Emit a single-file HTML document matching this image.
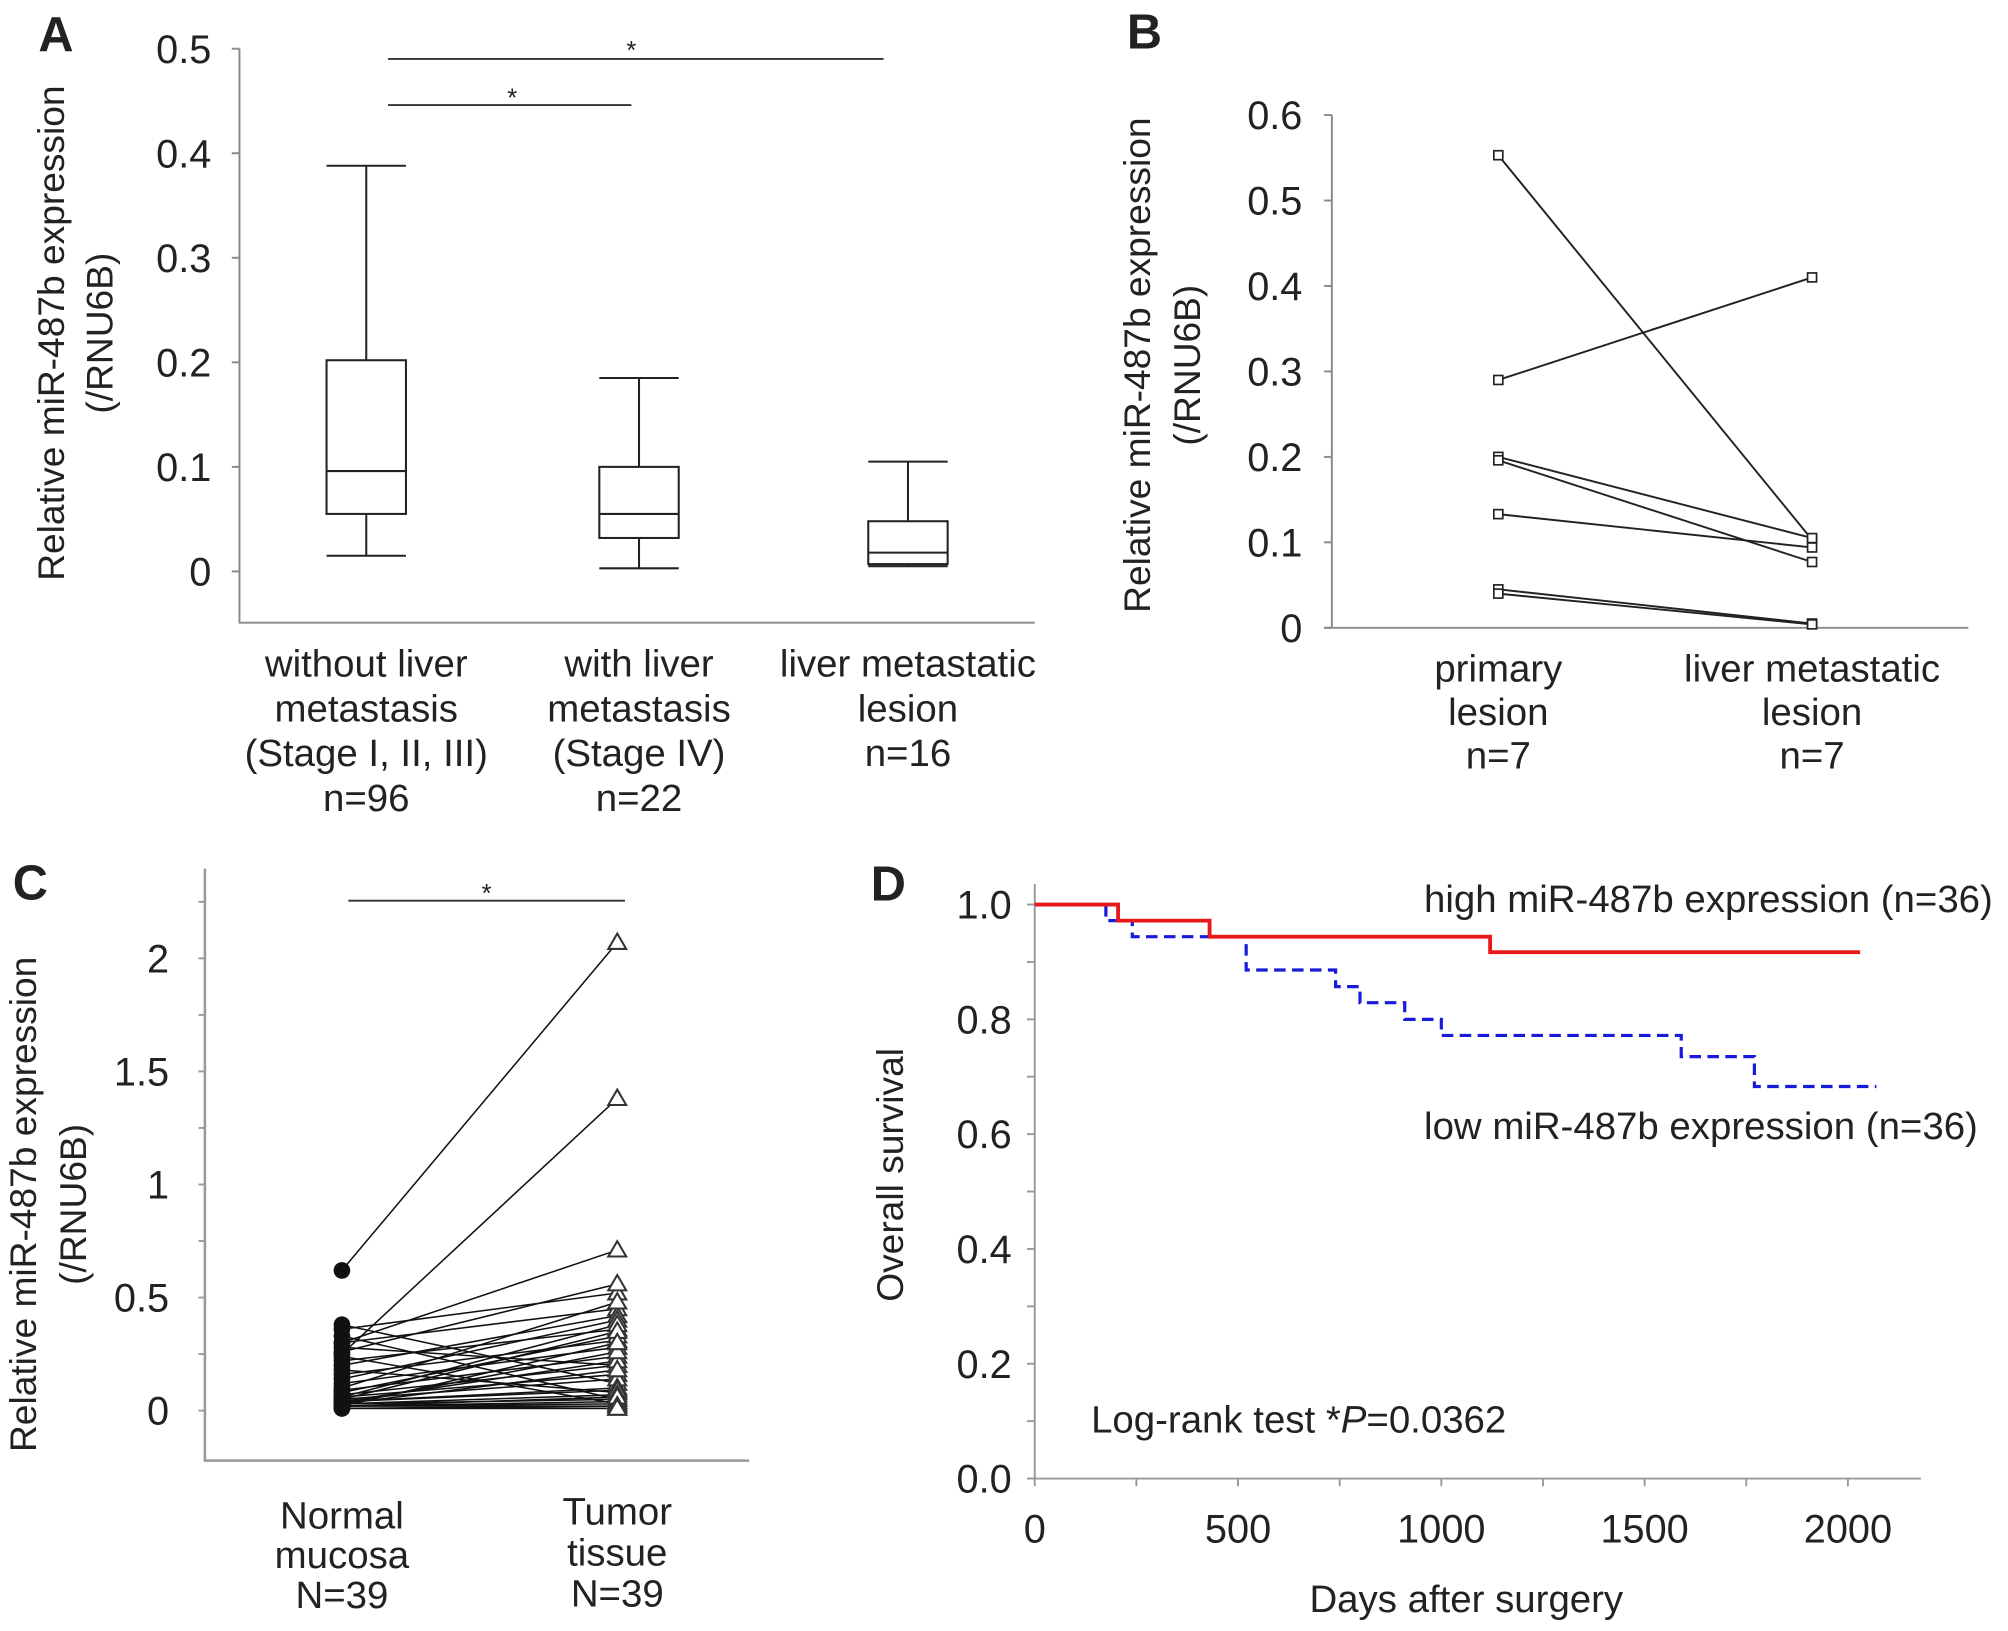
<!DOCTYPE html>
<html><head><meta charset="utf-8">
<style>
html,body{margin:0;padding:0;background:#fff;}
svg{display:block;}
text{font-family:"Liberation Sans",sans-serif;fill:#222;}
</style></head>
<body>
<svg id="fig" width="2008" height="1631" viewBox="0 0 1568 1273" preserveAspectRatio="none" xmlns="http://www.w3.org/2000/svg">
</svg>
<script>
// ---------- Panel A data ----------
const aCategories = ["without liver|metastasis|(Stage I, II, III)|n=96","with liver|metastasis|(Stage IV)|n=22","liver metastatic|lesion|n=16"];
const aMax = [0.388,0.185,0.105];
const aQ3 = [0.202,0.100,0.048];
const aMed = [0.096,0.055,0.018];
const aQ1 = [0.055,0.032,0.007];
const aMin = [0.015,0.003,0.005];
const aTicks = [0,0.1,0.2,0.3,0.4,0.5];
// ---------- Panel B data ----------
const bCategories = ["primary|lesion|n=7","liver metastatic|lesion|n=7"];
const bPrimary = [0.553,0.290,0.200,0.196,0.133,0.045,0.040];
const bLiver = [0.103,0.410,0.105,0.077,0.094,0.005,0.004];
const bTicks = [0,0.1,0.2,0.3,0.4,0.5,0.6];
// ---------- Panel C data ----------
const cCategories = ["Normal|mucosa|N=39","Tumor|tissue|N=39"];
const cNormal = [0.62,0.25,0.30,0.38,0.36,0.33,0.30,0.28,0.26,0.24,0.22,0.20,0.18,0.16,0.14,0.12,0.10,0.09,0.08,0.07,0.06,0.06,0.05,0.05,0.04,0.04,0.04,0.03,0.03,0.03,0.03,0.02,0.02,0.02,0.02,0.02,0.01,0.01,0.01];
const cTumor = [2.07,1.38,0.71,0.12,0.52,0.05,0.45,0.20,0.56,0.03,0.36,0.42,0.08,0.31,0.40,0.28,0.48,0.24,0.33,0.20,0.38,0.16,0.14,0.35,0.10,0.09,0.22,0.07,0.26,0.05,0.18,0.04,0.30,0.03,0.06,0.02,0.02,0.01,0.01];
const cTicks = ["0","0.5","1","1.5","2"];
const cTickVals = [0,0.5,1,1.5,2];
// ---------- Panel D data ----------
const dHighDays = [0,205,430,1120,2030];
const dHighSurv = [1.0,0.972,0.944,0.917,0.917];
const dLowDays = [0,175,240,520,740,800,910,1000,1590,1770,2070];
const dLowSurv = [1.0,0.972,0.944,0.886,0.857,0.829,0.800,0.772,0.735,0.683,0.683];
const dYTicks = [0,0.2,0.4,0.6,0.8,1.0];
const dXTicks = [0,500,1000,1500,2000];

const svg = document.getElementById('fig');
const NS = "http://www.w3.org/2000/svg";
function mk(tag, attrs, parent){
  const e = document.createElementNS(NS, tag);
  for (const k in attrs) e.setAttribute(k, attrs[k]);
  (parent||svg).appendChild(e);
  return e;
}
function txt(x,y,s,size,anchor,parent,extra){
  const t = mk('text',Object.assign({x:x,y:y,'font-size':size,'text-anchor':anchor||'middle'},extra||{}),parent);
  t.textContent = s;
  return t;
}
function multiline(cx, y0, lh, label, size, g){
  label.split('|').forEach((s,i)=>{
    const t = txt(cx, y0+i*lh, s, size, 'middle', g);
    
    
  });
}
function ytitle(x1,x2,cy,l1,l2,size,g){
  const t1 = txt(x1,cy,l1,size,'middle',g,{transform:`rotate(-90 ${x1} ${cy})`});
  
  
  if(l2){
    const t2 = txt(x2,cy,l2,size,'middle',g,{transform:`rotate(-90 ${x2} ${cy})`});
    
    
  }
}
function letter(x,y,s){
  const t = txt(x,y,s,38,'start',svg,{'font-weight':'bold','fill':'#000'});
  
  
}
const AX = '#888';

// ================= Panel A =================
(function(){
  const g = mk('g',{});
  
  
  const y = v => 446 - v*816;
  const xs = [286,499,709], hw = 31;
  mk('path',{d:`M187 ${y(0.5)} V486 H808`,stroke:AX,'stroke-width':1.5,fill:'none'},g);
  aTicks.forEach(v=>{
    mk('line',{x1:181,x2:187,y1:y(v),y2:y(v),stroke:AX,'stroke-width':1.5},g);
    const t = txt(165,y(v)+11,v===0?'0':v.toFixed(1),31,'end',g);
    
    
  });
  aCategories.forEach((c,i)=>{
    const x = xs[i];
    const b = mk('g',{},g);
    
    
    const st = {stroke:'#222','stroke-width':1.6,fill:'none'};
    mk('line',Object.assign({x1:x,x2:x,y1:y(aMax[i]),y2:y(aQ3[i])},st),b);
    mk('line',Object.assign({x1:x,x2:x,y1:y(aQ1[i]),y2:y(aMin[i])},st),b);
    mk('line',Object.assign({x1:x-hw,x2:x+hw,y1:y(aMax[i]),y2:y(aMax[i])},st),b);
    mk('line',Object.assign({x1:x-hw,x2:x+hw,y1:y(aMin[i]),y2:y(aMin[i])},st),b);
    mk('rect',Object.assign({x:x-hw,y:y(aQ3[i]),width:hw*2,height:y(aQ1[i])-y(aQ3[i])},st),b);
    mk('line',Object.assign({x1:x-hw,x2:x+hw,y1:y(aMed[i]),y2:y(aMed[i])},st),b);
    multiline(x,528,35,c,30,g);
  });
  mk('line',{x1:303,x2:690,y1:46,y2:46,stroke:'#333','stroke-width':1.5},g);
  txt(493,46,'*',20,'middle',g);
  mk('line',{x1:303,x2:493,y1:82,y2:82,stroke:'#333','stroke-width':1.5},g);
  txt(400,83,'*',20,'middle',g);
  ytitle(50,88,260,'Relative miR-487b expression','(/RNU6B)',29,g);
})();
letter(30,40,'A');

// ================= Panel B =================
(function(){
  const g = mk('g',{});
  
  
  const y = v => 490 - v*667;
  const x1 = 1170, x2 = 1415;
  mk('path',{d:`M1040 ${y(0.6)} V490 H1537`,stroke:AX,'stroke-width':1.5,fill:'none'},g);
  mk('line',{x1:1034,x2:1040,y1:490,y2:490,stroke:AX,'stroke-width':1.5},g);
  bTicks.forEach(v=>{
    mk('line',{x1:1034,x2:1040,y1:y(v),y2:y(v),stroke:AX,'stroke-width':1.5},g);
    const t = txt(1017,y(v)+11,v===0?'0':v.toFixed(1),31,'end',g);
    
    
  });
  bPrimary.forEach((v,i)=>{
    const l = mk('line',{x1:x1,y1:y(v),x2:x2,y2:y(bLiver[i]),stroke:'#222','stroke-width':1.5},g);
    
    
    [[x1,v],[x2,bLiver[i]]].forEach(p=>{
      const r = mk('rect',{x:p[0]-3.5,y:y(p[1])-3.5,width:7,height:7,fill:'#fff',stroke:'#222','stroke-width':1.3},g);
      
      
    });
  });
  bCategories.forEach((c,i)=>multiline([x1,x2][i],532,34,c,30,g));
  ytitle(898,937,285,'Relative miR-487b expression','(/RNU6B)',29,g);
})();
letter(880,38,'B');

// ================= Panel C =================
(function(){
  const g = mk('g',{});
  
  
  const y = v => 1101 - v*176.5;
  const x1 = 267, x2 = 482;
  mk('path',{d:'M160 678 V1140 H585',stroke:'#999','stroke-width':2,fill:'none'},g);
  for(let v=0; v<=2.25; v+=0.25){
    mk('line',{x1:155,x2:160,y1:y(v),y2:y(v),stroke:'#999','stroke-width':1.5},g);
  }
  cTickVals.forEach((v,i)=>{
    const t = txt(132,y(v)+11,cTicks[i],31,'end',g);
    
    
  });
  cNormal.forEach((v,i)=>{
    const l = mk('line',{x1:x1,y1:y(v),x2:x2,y2:y(cTumor[i]),stroke:'#111','stroke-width':1.2},g);
    
    
  });
  cNormal.forEach(v=>{
    const c = mk('circle',{cx:x1,cy:y(v),r:6.5,fill:'#111'},g);
    
    
  });
  cTumor.forEach(v=>{
    const yy = y(v);
    const p = mk('path',{d:`M${x2} ${yy-7} L${x2+7} ${yy+5} L${x2-7} ${yy+5} Z`,fill:'#fff',stroke:'#333','stroke-width':1.6},g);
    
    
  });
  mk('line',{x1:272,x2:488,y1:703,y2:703,stroke:'#333','stroke-width':1.5},g);
  txt(380,704,'*',20,'middle',g);
  multiline(x1,1193,31,cCategories[0],30,g);
  multiline(x2,1190,32,cCategories[1],30,g);
  ytitle(28,67,940,'Relative miR-487b expression','(/RNU6B)',29,g);
})();
letter(10,702,'C');

// ================= Panel D =================
(function(){
  const g = mk('g',{});
  
  
  const x = d => 808 + d*0.3175;
  const y = v => 1154 - v*448;
  mk('path',{d:'M808 690 V1154 H1500',stroke:'#999','stroke-width':1.5,fill:'none'},g);
  for(let v=0; v<=1.001; v+=0.1){
    mk('line',{x1:802,x2:808,y1:y(v),y2:y(v),stroke:'#999','stroke-width':1.5},g);
  }
  for(let d=0; d<=2000; d+=250){
    mk('line',{x1:x(d),x2:x(d),y1:1154,y2:1160,stroke:'#999','stroke-width':1.5},g);
  }
  dYTicks.forEach(v=>{
    const t = txt(790,y(v)+11,v.toFixed(1),31,'end',g);
    
    
  });
  dXTicks.forEach(d=>{
    const t = txt(x(d),1204,String(d),31,'middle',g);
    
    
  });
  function stepPath(days, surv){
    let p = `M${x(days[0])} ${y(surv[0])}`;
    for(let i=1;i<days.length;i++){
      p += ` H${x(days[i])} V${y(surv[i])}`;
    }
    return p;
  }
  const lo = mk('path',{d:stepPath(dLowDays,dLowSurv),stroke:'#1a1adc','stroke-width':2.5,fill:'none','stroke-dasharray':'9 5'},g);
  
  
  const hi = mk('path',{d:stepPath(dHighDays,dHighSurv),stroke:'#e8191b','stroke-width':3,fill:'none'},g);
  
  
  const l1 = txt(1112,712,'high miR-487b expression (n=36)',30,'start',g);
  
  
  const l2 = txt(1112,889,'low miR-487b expression (n=36)',30,'start',g);
  
  
  const lr = mk('text',{x:852,y:1118,'font-size':30,'text-anchor':'start'},g);
  
  
  lr.innerHTML = 'Log-rank test *<tspan font-style="italic">P</tspan>=0.0362';
  const xt = txt(1145,1258,'Days after surgery',30,'middle',g);
  
  
  ytitle(705,0,917,'Overall survival',null,29,g);
})();
letter(680,703,'D');
</script>
</body></html>
